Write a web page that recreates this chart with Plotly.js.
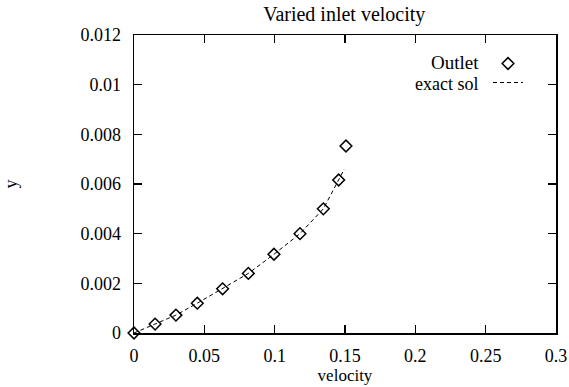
<!DOCTYPE html>
<html>
<head>
<meta charset="utf-8">
<script src="https://cdn.plot.ly/plotly-3.0.1.min.js"></script>
<style>html,body{margin:0;padding:0;background:#fff;}#chart{width:569px;height:387px;}</style>
</head>
<body>
<div id="chart"></div>
<script>
// Outlet data
var outletX = [0, 0.015, 0.0298, 0.045, 0.063, 0.0813, 0.0995, 0.118, 0.1346, 0.1455, 0.1507];
var outletY = [0, 0.00036, 0.00072, 0.0012, 0.00178, 0.0024, 0.00317, 0.004, 0.005, 0.00616, 0.00753];
// exact solution curve
var exactX = [0, 0.015, 0.0298, 0.045, 0.063, 0.0813, 0.0995, 0.118, 0.1346, 0.1455, 0.1495];
var exactY = [0, 0.00036, 0.00072, 0.0012, 0.00178, 0.0024, 0.00317, 0.004, 0.005, 0.0062, 0.0066];
var legendLabels = ["Outlet", "exact sol"];

var fontFam = "'Liberation Serif', 'Times New Roman', serif";
var fs = 18;

var traces = [
  {x: outletX, y: outletY, mode: 'markers', type: 'scatter', name: '',
   marker: {symbol: 'diamond-open', size: 9, color: '#000', line: {width: 1.5, color: '#000'}},
   cliponaxis: false},
  {x: exactX, y: exactY, mode: 'lines', type: 'scatter', name: '',
   line: {color: '#000', width: 1, dash: '4px,3px'}}
];

var layout = {
  width: 569, height: 387,
  margin: {l: 134, r: 13, t: 35, b: 54},
  paper_bgcolor: '#fff', plot_bgcolor: '#fff',
  font: {family: fontFam, size: fs, color: '#000'},
  title: {text: 'Varied inlet velocity', x: 0.605, xanchor: 'center', y: 0.965, yanchor: 'middle',
          font: {family: fontFam, size: 20, color: '#000'}},
  xaxis: {range: [0, 0.3], dtick: 0.05, tick0: 0, ticks: 'inside', ticklen: 8, tickwidth: 1.5,
          tickcolor: '#000', showline: true, linecolor: '#000', linewidth: 1.5, mirror: 'ticks',
          showgrid: false, zeroline: false, ticklabelstandoff: 6,
          tickfont: {family: fontFam, size: fs, color: '#000'},
          title: {text: 'velocity', standoff: 0, font: {family: fontFam, size: 17, color: '#000'}}},
  yaxis: {range: [0, 0.012], dtick: 0.002, tick0: 0, ticks: 'inside', ticklen: 8, tickwidth: 1.5,
          tickcolor: '#000', showline: true, linecolor: '#000', linewidth: 1.5, mirror: 'ticks',
          showgrid: false, zeroline: false, ticklabelstandoff: 8,
          tickfont: {family: fontFam, size: fs, color: '#000'},
          title: {text: 'y', standoff: 58, font: {family: fontFam, size: fs, color: '#000'}}},
  showlegend: true,
  legend: {x: (488 - 134) / 422, xanchor: 'left', y: 1 - (49 - 35) / 298, yanchor: 'top',
           bgcolor: 'rgba(0,0,0,0)', font: {family: fontFam, size: 12}, tracegroupgap: 0,
           itemwidth: 30},
  annotations: [
    {xref: 'paper', yref: 'paper', x: (481 - 134) / 422, y: 1 - (63 - 35) / 298, xanchor: 'right', yanchor: 'middle',
     text: legendLabels[0], showarrow: false, font: {family: fontFam, size: 19, color: '#000'}},
    {xref: 'paper', yref: 'paper', x: (480 - 134) / 422, y: 1 - (84 - 35) / 298, xanchor: 'right', yanchor: 'middle',
     text: legendLabels[1], showarrow: false, font: {family: fontFam, size: fs, color: '#000'}}
  ]
};

Plotly.newPlot('chart', traces, layout, {displayModeBar: false, staticPlot: true});
</script>
</body>
</html>
